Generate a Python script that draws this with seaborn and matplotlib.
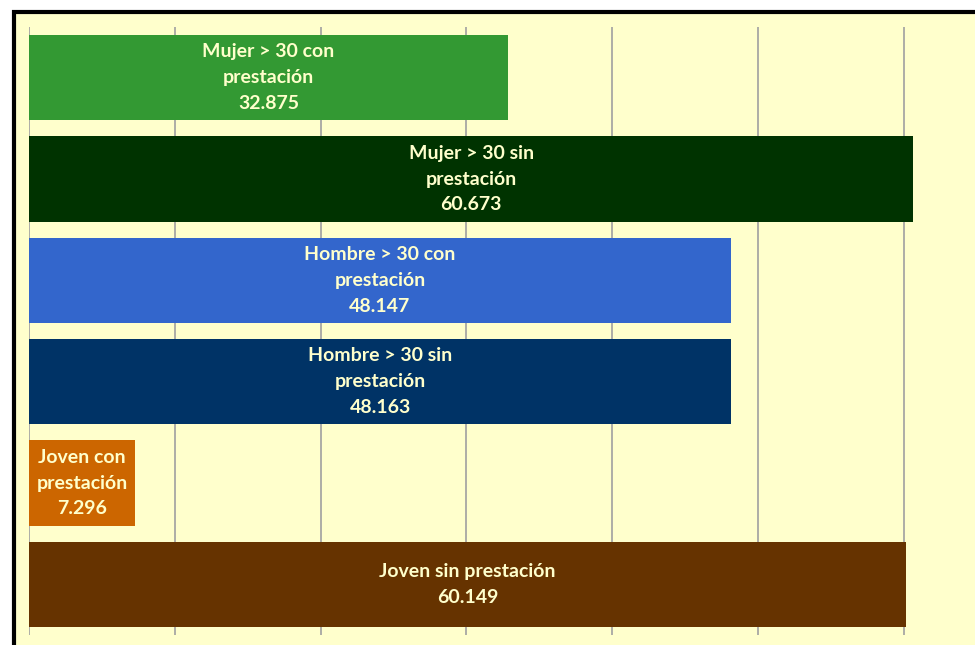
import matplotlib
matplotlib.use("Agg")
import matplotlib.pyplot as plt
from matplotlib.patches import Rectangle
import seaborn as sns
import pandas as pd

# datos del gráfico
categorias = ["Mujer > 30 con\nprestación", "Mujer > 30 sin\nprestación",
              "Hombre > 30 con\nprestación", "Hombre > 30 sin\nprestación",
              "Joven con\nprestación", "Joven sin prestación"]
valores = [32875, 60673, 48147, 48163, 7296, 60149]
etiquetas_valor = ["32.875", "60.673", "48.147", "48.163", "7.296", "60.149"]
colores = ["#339933", "#003300", "#3366CC", "#003366", "#CC6600", "#663300"]

df = pd.DataFrame({"categoria": categorias, "valor": valores})

sns.set_style("white")
plt.rcParams['font.family'] = ['Lato', 'DejaVu Sans']

fig = plt.figure(figsize=(9.75, 6.45), dpi=100)
fig.patch.set_facecolor("white")

# marco del área del gráfico (recortado a la derecha y abajo)
marco = Rectangle((13.5 / 975, -0.05), 1.1, 1 - 12 / 645 + 0.05,
                  transform=fig.transFigure, facecolor="#FFFFCC",
                  edgecolor="black", linewidth=3, zorder=-10)
fig.add_artist(marco)

ax = fig.add_axes([29 / 975, 1 - 635 / 645, 1 - 29 / 975, (635 - 27) / 645])
ax.set_zorder(1)
ax.set_facecolor("none")

sns.barplot(data=df, y="categoria", x="valor", hue="categoria", palette=colores,
            orient="h", width=0.84, legend=False, ax=ax, saturation=1,
            linewidth=0)

ax.set_xlim(0, 64900)
ax.set_ylim(len(categorias) - 0.5, -0.5)
ax.set_xticks(range(0, 70000, 10000))
ax.grid(axis="x", color="#A0A0A0", linewidth=1.2)
ax.set_axisbelow(True)
for s in ax.spines.values():
    s.set_visible(False)
ax.tick_params(left=False, bottom=False, labelleft=False, labelbottom=False)
ax.set_xlabel("")
ax.set_ylabel("")

for bar, cat, etq in zip(ax.patches, categorias, etiquetas_valor):
    cx = bar.get_x() + bar.get_width() / 2
    cy = bar.get_y() + bar.get_height() / 2
    ax.text(cx, cy, f"{cat}\n{etq}", ha="center", va="center", color="#FFFFCC",
            fontsize=14, fontweight="bold", linespacing=1.62)

fig.savefig("out.png", dpi=100, facecolor=fig.get_facecolor())
